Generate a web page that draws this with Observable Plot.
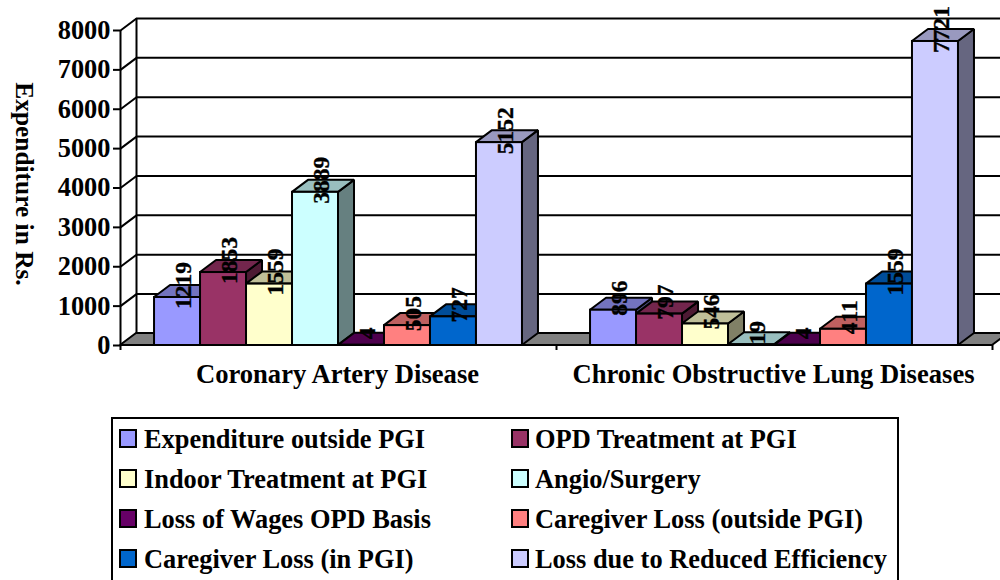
<!DOCTYPE html>
<html><head><meta charset="utf-8">
<script src="https://cdn.jsdelivr.net/npm/d3@7"></script>
<script src="https://cdn.jsdelivr.net/npm/@observablehq/plot@0.6"></script>
<style>
html,body{margin:0;padding:0;background:#fff;width:1000px;height:580px;overflow:hidden}
#wrap{position:relative;width:1000px;height:580px;font-family:"Liberation Serif",serif;font-weight:bold;color:#000}
#wrap svg{display:block;position:absolute;left:0;top:0;overflow:hidden}
#legend{position:absolute;left:111px;top:417px;width:784px;height:180px;border:2px solid #000;box-sizing:content-box;background:#fff}
.li{position:absolute;height:40px;line-height:40px;font-size:26.4px;white-space:nowrap}
.sw{position:absolute;width:14px;height:15px;border:2px solid #000;left:0;top:10px}
.lb{position:absolute;left:25px;top:0}
</style></head><body><div id="wrap"></div>
<script>
const categories = ["Coronary Artery Disease", "Chronic Obstructive Lung Diseases"];
const seriesNames = ["Expenditure outside PGI","OPD Treatment at PGI","Indoor Treatment at PGI","Angio/Surgery","Loss of Wages OPD Basis","Caregiver Loss (outside PGI)","Caregiver Loss (in PGI)","Loss due to Reduced Efficiency"];
const coronary = [1219,1853,1559,3889,4,505,727,5152];
const chronic = [896,797,546,19,4,411,1559,7721];
const yTicks = [0,1000,2000,3000,4000,5000,6000,7000,8000];
const front = ["#9999FF","#993366","#FFFFCC","#CCFFFF","#660066","#FF8080","#0066CC","#CCCCFF"];
const yTitle = "Expenditure in Rs.";

// layout in scale units: one bar is 1 wide, depth is a fraction of a bar / a number of rupees
const pad = 0.74, depthX = 0.348, depthY = 305, groupW = 8 + 2*pad, totalW = 2*groupW;
const shade = (c,k)=>{const r=d3.rgb(c);return d3.rgb(r.r*k,r.g*k,r.b*k).formatHex();};
const bars = [coronary,chronic].flatMap((vals,g)=>vals.map((v,i)=>({v,x0:g*groupW+pad+i,x1:g*groupW+pad+i+1,c:front[i]})));
const edge = {stroke:"#000",strokeWidth:2,strokeLinejoin:"miter"};

const barMarks = bars.flatMap(b=>[
  Plot.areaY([{x:b.x1,a:0,t:b.v},{x:b.x1+depthX,a:depthY,t:b.v+depthY}],{x:"x",y1:"a",y2:"t",fill:shade(b.c,0.5),...edge}),
  Plot.areaX([{y:b.v,a:b.x0,t:b.x1},{y:b.v+depthY,a:b.x0+depthX,t:b.x1+depthX}],{y:"y",x1:"a",x2:"t",fill:shade(b.c,0.75),...edge}),
  Plot.rect([b],{x1:"x0",x2:"x1",y1:0,y2:"v",fill:b.c,...edge})
]);

const chart = Plot.plot({
  width:1000,height:400,marginLeft:120,marginRight:8,marginTop:30,marginBottom:55,
  style:{fontFamily:"Liberation Serif",fontWeight:"bold",color:"#000",background:"transparent",overflow:"hidden"},
  x:{domain:[0,totalW]},
  y:{domain:[0,8000]},
  marks:[
    Plot.ruleY(yTicks,{y:d=>d+depthY,x1:depthX,x2:totalW+depthX,...edge}),
    Plot.link(yTicks,{x1:0,x2:depthX,y1:d=>d,y2:d=>d+depthY,...edge}),
    Plot.ruleX([0],{y1:0,y2:8000,...edge}),
    Plot.ruleX([depthX],{y1:depthY,y2:8000+depthY,...edge}),
    Plot.areaX([{y:0,a:0,t:totalW},{y:depthY,a:depthX,t:totalW+depthX}],{y:"y",x1:"a",x2:"t",fill:"#808080",...edge}),
    ...barMarks,
    Plot.axisY({ticks:yTicks,tickSize:7,tickPadding:3,strokeWidth:2,fontSize:26.4,label:null,tickFormat:d=>String(d)}),
    Plot.axisX({ticks:[0,groupW,totalW],tickSize:5,strokeWidth:2,tickFormat:()=>"",label:null}),
    Plot.text(bars,{x:d=>(d.x0+d.x1+depthX)/2,y:d=>d.v+depthY,text:d=>String(d.v),rotate:-90,dx:-2,fontSize:23.5,fill:"#000",stroke:"#000",strokeWidth:0.35}),
    Plot.text(categories,{x:(d,i)=>groupW*(i+0.5),y:0,dy:29,dx:-1,fontSize:26.6,fill:"#000"}),
    Plot.text([yTitle],{frameAnchor:"left",textAnchor:"middle",dx:-96,dy:-4,rotate:90,fontSize:25.4,fill:"#000"})
  ]
});
const wrap=document.getElementById("wrap");
wrap.appendChild(chart);
const lg=document.createElement("div");lg.id="legend";
seriesNames.forEach((n,i)=>{
  const col=i%2,row=(i-col)/2;
  const it=document.createElement("div");it.className="li";
  it.style.left=(col?398:6)+"px";it.style.top=(row*40+0)+"px";
  it.innerHTML='<span class="sw"></span><span class="lb"></span>';
  it.querySelector(".sw").style.background=front[i];
  const lb=it.querySelector(".lb");lb.textContent=n;if(col)lb.style.left="24px";
  lg.appendChild(it);
});
wrap.appendChild(lg);
</script></body></html>
